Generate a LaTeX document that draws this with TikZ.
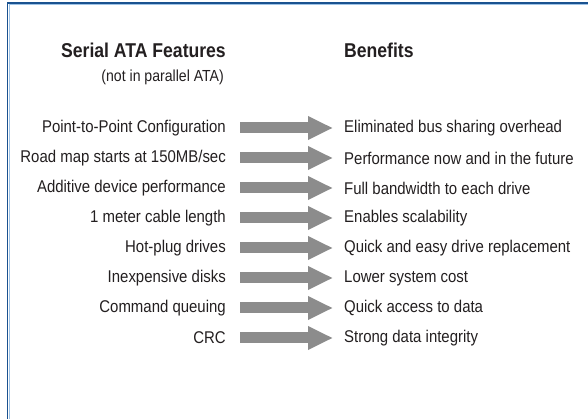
\documentclass[tikz,border=0pt]{standalone}
\usepackage{fontspec}
\setmainfont[FakeStretch=0.88]{Liberation Sans}
\usetikzlibrary{arrows.meta}
\definecolor{framedark}{HTML}{1A5290}
\definecolor{framelight}{HTML}{9EC3E6}
\definecolor{arrowgray}{HTML}{8C8C8C}
\definecolor{textcol}{HTML}{231F20}
\tikzset{
  feat/.style={anchor=east, inner sep=0pt, font=\fontsize{17}{19}\selectfont, text=textcol},
  bene/.style={anchor=west, inner sep=0pt, font=\fontsize{17}{19}\selectfont, text=textcol},
  head/.style={inner sep=0pt, font=\fontsize{20}{23}\selectfont\bfseries, text=textcol},
  sub/.style={anchor=east, inner sep=0pt, font=\fontsize{16}{18}\selectfont, text=textcol},
  bigarrow/.style={draw=arrowgray, line width=11pt, -{Triangle[width=22pt,length=25pt]}, arrowgray},
}
\begin{document}
\begin{tikzpicture}[x=1pt,y=1pt]
\useasboundingbox (0,0) rectangle (588,419);
% frame
\draw[framelight, line width=1pt] (9.5,0) -- (9.5,414.5) -- (588,414.5);
\draw[framedark, line width=1.6pt] (7.5,0) -- (7.5,416) -- (588,416);
% headings
\node[head, anchor=east] (fh) at (226,369) {Serial ATA Features};
\node[sub] (fs) at (224,342) {(not in parallel ATA)};
\node[head, anchor=west] (bh) at (344,369) {Benefits};
% rows
\foreach \i/\f/\b in {
  1/Point-to-Point Configuration/Eliminated bus sharing overhead,
  2/Road map starts at 150MB\slash sec/Performance now and in the future,
  3/Additive device performance/Full bandwidth to each drive,
  4/1 meter cable length/Enables scalability,
  5/Hot-plug drives/Quick and easy drive replacement,
  6/Inexpensive disks/Lower system cost,
  7/Command queuing/Quick access to data,
  8/CRC/Strong data integrity}
{
  \node[feat] (f\i) at (226,{419-128-30*(\i-1)}) {\f};
  \node[bene] (b\i) at (344,{419-128-30*(\i-1)}) {\b};
  \draw[bigarrow] ([xshift=14pt]f\i.east) -- ([xshift=-11pt]b\i.west);
}
\end{tikzpicture}
\end{document}
